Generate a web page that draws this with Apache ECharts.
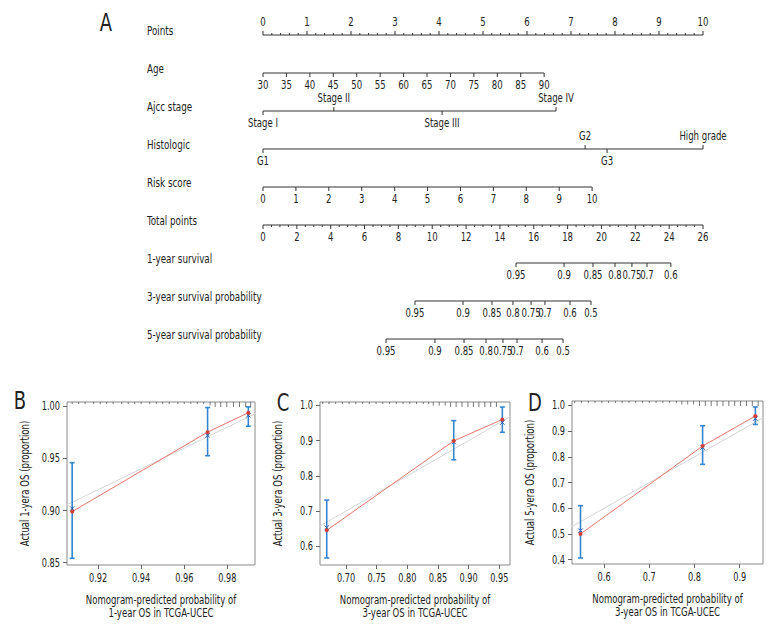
<!DOCTYPE html>
<html>
<head>
<meta charset="utf-8">
<script src="https://cdn.jsdelivr.net/npm/echarts@6/dist/echarts.min.js"></script>
<style>html,body{margin:0;padding:0;background:#fff}#main{width:780px;height:636px}</style>
</head>
<body>
<div id="main"></div>
<script>
// ================= Panel A : nomogram =================
const rowNames = ['Points','Age','Ajcc stage','Histologic','Risk score','Total points',
  '1-year survival','3-year survival probability','5-year survival probability'];
const pointsLabels = [0,1,2,3,4,5,6,7,8,9,10];
const ageValues = [30,35,40,45,50,55,60,65,70,75,80,85,90];
const ageMaxPoints = 6.39;          // points for age 90 (age 30 -> 0)
const stageLabels = ['Stage I','Stage II','Stage III','Stage IV'];
const stagePoints = [0,1.61,4.07,6.66];
const stageSide = ['below','above','below','above'];
const histLabels = ['G1','G2','G3','High grade'];
const histPoints = [0,7.32,7.82,10];
const histSide = ['below','above','below','above'];
const riskValues = [0,1,2,3,4,5,6,7,8,9,10];
const riskMaxPoints = 7.48;         // points for risk score 10
const totalLabels = [0,2,4,6,8,10,12,14,16,18,20,22,24,26];
const surv1Labels = ['0.95','0.9','0.85','0.8','0.75','0.7','0.6'];
const surv1Total  = [14.95,17.79,19.50,20.80,21.80,22.69,24.10];
const surv3Labels = ['0.95','0.9','0.85','0.8','0.75','0.7','0.6','0.5'];
const surv3Total  = [8.98,11.82,13.53,14.77,15.84,16.66,18.14,19.38];
const surv5Labels = ['0.95','0.9','0.85','0.8','0.75','0.7','0.6','0.5'];
const surv5Total  = [7.27,10.16,11.88,13.18,14.18,15.01,16.49,17.73];

// ================= Panels B-D : calibration =================
const calB_pred = [0.908, 0.9708, 0.9897];
const calB_obs  = [0.899, 0.9752, 0.9938];
const calB_corr = [0.902, 0.9722, 0.9914];
const calB_lo   = [0.8542, 0.9526, 0.9809];
const calB_hi   = [0.9459, 0.9988, 0.9994];
const calB_xTicks = [0.92,0.94,0.96,0.98];
const calB_yTicks = [0.85,0.90,0.95,1.00];
const calB_rug  = [0.908,0.911,0.914,0.918,0.921,0.924,0.927,0.931,0.934,0.937,0.940,0.944,0.947,0.950,0.953,0.957,0.960,0.963,0.966,0.969,0.972,
                   0.9743,0.9769,0.9797,0.9828,0.9856,0.9885,0.9908];
const calB_rugN = [1,1,1,1,1,1,1,1,1,1,1,1,1,1,1,1,1,1,1,1,2, 3,3,3,3,3,3,3];

const calC_pred = [0.6685, 0.8757, 0.955];
const calC_obs  = [0.6455, 0.899, 0.9596];
const calC_corr = [0.653, 0.8955, 0.951];
const calC_lo   = [0.567, 0.8455, 0.9234];
const calC_hi   = [0.731, 0.9565, 0.995];
const calC_xTicks = [0.70,0.75,0.80,0.85,0.90,0.95];
const calC_yTicks = [0.6,0.7,0.8,0.9,1.0];
const calC_rug  = [0.662,0.672,0.683,0.694,0.705,0.716,0.727,0.738,0.749,0.760,0.771,0.782,0.793,0.804,0.815,0.826,0.835,
                   0.8423,0.852,0.8618,0.8706,0.8796,0.8892,0.8989,0.9077,0.9167,0.9264,0.936,0.9453];
const calC_rugN = [1,1,1,1,1,1,1,1,1,1,1,1,1,1,1,1,1, 2,2,2,3,3,3,3,3,3,3,3,3];

const calD_pred = [0.5478, 0.818, 0.9347];
const calD_obs  = [0.50, 0.8415, 0.9585];
const calD_corr = [0.513, 0.8365, 0.9485];
const calD_lo   = [0.4066, 0.7705, 0.9255];
const calD_hi   = [0.61, 0.9205, 0.9935];
const calD_xTicks = [0.6,0.7,0.8,0.9];
const calD_yTicks = [0.4,0.5,0.6,0.7,0.8,0.9,1.0];
const calD_rug  = [0.535,0.550,0.565,0.580,0.595,0.610,0.625,0.640,0.655,0.670,0.685,0.700,0.715,0.730,0.745,0.760,
                   0.772,0.785,0.798,0.811,0.824,0.837,0.850,0.863,0.876,0.889,0.902,0.915,0.928,0.941];
const calD_rugN = [1,1,1,1,1,1,1,1,1,1,1,1,1,1,1,1, 2,2,2,3,3,3,3,3,3,3,3,3,3,3];

const FONT = "'DejaVu Sans Condensed','DejaVu Sans',sans-serif";
const INK = '#222';
const LINE = '#333';

// text element with horizontal condensing (reference uses a condensed face)
function T(x, y, text, o){
  o = o || {};
  const al = o.align || 'center', va = o.va || 'middle';
  return {type:'text', x, y, scaleX:o.sx || 0.76, rotation:o.rot || 0,
    style:{x:0, y:0, text, fontSize:o.fs || 12, fontFamily:FONT, fill:INK,
      textAlign:al, align:al, textVerticalAlign:va, verticalAlign:va}};
}

// ---------- build nomogram elements ----------
const ptsLines = [], ptsTicks = [], totLines = [], totTicks = [];
function tick(arr, x, row, label, side, minor){ arr.push({x, row, label, side, minor}); }

ptsLines.push([0, 10, 0]);
pointsLabels.forEach(v => tick(ptsTicks, v, 0, String(v), 'above', false));
for (let k = 0; k < 50; k++) { if (k % 5) tick(ptsTicks, k / 5, 0, null, 'above', true); }
ptsLines.push([0, ageMaxPoints, 1]);
ageValues.forEach(a => tick(ptsTicks, (a - ageValues[0]) / (ageValues[ageValues.length-1] - ageValues[0]) * ageMaxPoints, 1, String(a), 'below', false));
ptsLines.push([0, Math.max(...stagePoints), 2]);
stageLabels.forEach((s, i) => tick(ptsTicks, stagePoints[i], 2, s, stageSide[i], false));
ptsLines.push([0, Math.max(...histPoints), 3]);
histLabels.forEach((s, i) => tick(ptsTicks, histPoints[i], 3, s, histSide[i], false));
ptsLines.push([0, riskMaxPoints, 4]);
riskValues.forEach(r => tick(ptsTicks, r / riskValues[riskValues.length-1] * riskMaxPoints, 4, String(r), 'below', false));
totLines.push([0, 26, 5]);
totalLabels.forEach(v => tick(totTicks, v, 5, String(v), 'below', false));
for (let k = 0; k < 52; k++) { if (k % 4) tick(totTicks, k / 2, 5, null, 'below', true); }
[[surv1Labels, surv1Total, 6], [surv3Labels, surv3Total, 7], [surv5Labels, surv5Total, 8]].forEach(([labs, tot, row]) => {
  totLines.push([Math.min(...tot), Math.max(...tot), row]);
  labs.forEach((l, i) => tick(totTicks, tot[i], row, l, 'below', false));
});

function lineRender(params, api){
  const a = api.coord([api.value(0), api.value(2)]);
  const b = api.coord([api.value(1), api.value(2)]);
  return {type:'line', shape:{x1:a[0], y1:a[1], x2:b[0], y2:b[1]}, style:{stroke:LINE, lineWidth:1}};
}
function tickRenderFor(items){
  return function(params, api){
    const t = items[params.dataIndex];
    const p = api.coord([api.value(0), api.value(1)]);
    const dir = t.side === 'above' ? -1 : 1;
    const len = t.minor ? 2 : 4;
    const children = [{type:'line', shape:{x1:p[0], y1:p[1], x2:p[0], y2:p[1] + dir*len}, style:{stroke:LINE, lineWidth:1}}];
    if (t.label != null) children.push(T(p[0], p[1] + dir*(t.side === 'above' ? 13 : 12), t.label, {fs:12.5, sx:0.76}));
    return {type:'group', children};
  };
}
function rowNameRender(params, api){
  const p = api.coord([api.value(0), api.value(1)]);
  return T(p[0] - 116, p[1] - 4, rowNames[params.dataIndex], {fs:12.5, sx:0.78, align:'left'});
}

// ---------- calibration helpers ----------
function calX(g, min, max, ticks){
  return {gridIndex:g, type:'value', min, max, axisLine:{show:false},
    axisTick:{show:true, length:4, customValues:ticks, lineStyle:{color:'#666'}},
    axisLabel:{show:false}, splitLine:{show:false}};
}
function calY(g, min, max, ticks){
  return {gridIndex:g, type:'value', min, max, axisLine:{show:false},
    axisTick:{show:true, length:4, customValues:ticks, lineStyle:{color:'#666'}},
    axisLabel:{show:false}, splitLine:{show:false}};
}
function calSeries(ax, pred, obs, corr, lo, hi, rug, rugN, idealRange, xTicks, yTicks, dec, xName1, xName2, yName){
  const s = [];
  s.push({type:'line', xAxisIndex:ax, yAxisIndex:ax-1, data:[[idealRange[0], idealRange[0]], [idealRange[1], idealRange[1]]],
    symbol:'none', silent:true, clip:true, lineStyle:{color:'#d6d6d6', width:1}, z:1});
  s.push({type:'custom', xAxisIndex:ax, yAxisIndex:ax-1,
    data: pred.map((x, i) => [x, lo[i], hi[i], corr[i]]),
    encode:{x:0, y:[1,2,3]},
    renderItem:(params, api) => {
      const x = api.value(0);
      const a = api.coord([x, api.value(1)]), b = api.coord([x, api.value(2)]), c = api.coord([x, api.value(3)]);
      const col = '#3585d0', w = 2.5, m = 2.2;
      return {type:'group', children:[
        {type:'line', shape:{x1:a[0], y1:a[1], x2:b[0], y2:b[1]}, style:{stroke:col, lineWidth:1.6}},
        {type:'line', shape:{x1:a[0]-w, y1:a[1], x2:a[0]+w, y2:a[1]}, style:{stroke:col, lineWidth:1.6}},
        {type:'line', shape:{x1:b[0]-w, y1:b[1], x2:b[0]+w, y2:b[1]}, style:{stroke:col, lineWidth:1.6}},
        {type:'line', shape:{x1:c[0]-m, y1:c[1]-m, x2:c[0]+m, y2:c[1]+m}, style:{stroke:'#2a5aa8', lineWidth:1}},
        {type:'line', shape:{x1:c[0]-m, y1:c[1]+m, x2:c[0]+m, y2:c[1]-m}, style:{stroke:'#2a5aa8', lineWidth:1}}
      ]};
    }, z:2});
  s.push({type:'line', xAxisIndex:ax, yAxisIndex:ax-1, data: pred.map((x, i) => [x, obs[i]]),
    symbol:'circle', symbolSize:4, itemStyle:{color:'#cf3f3a'}, lineStyle:{color:'#e5776c', width:1}, z:3});
  s.push({type:'custom', xAxisIndex:ax, yAxisIndex:ax-1, data: rug.map((x, i) => [x, rugN[i]]),
    encode:{x:0},
    renderItem:(params, api) => {
      const cs = params.coordSys;
      const p = api.coord([api.value(0), 0]);
      const h = api.value(1) >= 3 ? 5 : (api.value(1) >= 2 ? 3.5 : 2);
      return {type:'line', shape:{x1:p[0], y1:cs.y, x2:p[0], y2:cs.y + h}, style:{stroke:'#555', lineWidth:0.8}};
    }, z:4});
  // x tick labels + x axis title
  s.push({type:'custom', xAxisIndex:ax, yAxisIndex:ax-1, data: xTicks.map(v => [v]), encode:{x:0}, silent:true,
    renderItem:(params, api) => {
      const cs = params.coordSys;
      const p = api.coord([api.value(0), 0]);
      const ch = [T(p[0], cs.y + cs.height + 13, api.value(0).toFixed(dec), {fs:13, sx:0.7})];
      if (params.dataIndex === 0) {
        ch.push(T(cs.x + cs.width/2, cs.y + cs.height + 35, xName1, {fs:12.5, sx:0.76}));
        ch.push(T(cs.x + cs.width/2, cs.y + cs.height + 48, xName2, {fs:12.5, sx:0.76}));
      }
      return {type:'group', children:ch};
    }});
  // y tick labels + y axis title
  s.push({type:'custom', xAxisIndex:ax, yAxisIndex:ax-1, data: yTicks.map(v => [0, v]), encode:{y:1}, silent:true,
    renderItem:(params, api) => {
      const cs = params.coordSys;
      const p = api.coord([0, api.value(1)]);
      const ch = [T(cs.x - 7, p[1], api.value(1).toFixed(ax === 2 ? 2 : 1), {fs:13, sx:0.7, align:'right'})];
      if (params.dataIndex === 0) {
        ch.push(T(cs.x - 42, cs.y + cs.height/2, yName, {fs:12.5, sx:0.76, rot:Math.PI/2}));
      }
      return {type:'group', children:ch};
    }});
  return s;
}

function letter(ch, x, y){
  return {type:'text', x, y, scaleX:0.8,
    style:{text:ch, fontSize:25, fontFamily:FONT, fill:INK, textAlign:'center', align:'center', textVerticalAlign:'middle', verticalAlign:'middle'}};
}

const chart = echarts.init(document.getElementById('main'), null, {renderer:'svg'});
const option = {
  animation:false,
  backgroundColor:'#fff',
  textStyle:{fontFamily:FONT},
  graphic:[letter('A', 106, 22), letter('B', 20, 400), letter('C', 283, 402), letter('D', 535, 402)],
  grid:[
    {left:263, right:77, top:35, bottom:297},
    {left:67, right:525, top:402, bottom:71, show:true, borderColor:'#8a8a8a', borderWidth:1},
    {left:320, right:270, top:402, bottom:71, show:true, borderColor:'#8a8a8a', borderWidth:1},
    {left:572, right:17, top:401, bottom:72, show:true, borderColor:'#8a8a8a', borderWidth:1}
  ],
  xAxis:[
    {gridIndex:0, type:'value', min:0, max:10, show:false},
    {gridIndex:0, type:'value', min:0, max:26, show:false},
    calX(1, 0.9056, 0.9928, calB_xTicks),
    calX(2, 0.6575, 0.9675, calC_xTicks),
    calX(3, 0.529, 0.9516, calD_xTicks)
  ],
  yAxis:[
    {gridIndex:0, type:'value', min:0, max:8, interval:1, inverse:true, show:false},
    calY(1, 0.8478, 1.0041, calB_yTicks),
    calY(2, 0.547, 1.0093, calC_yTicks),
    calY(3, 0.3833, 1.0167, calD_yTicks)
  ],
  series:[
    {type:'custom', xAxisIndex:0, yAxisIndex:0, data:rowNames.map((n, i) => [0, i]), encode:{x:0, y:1}, renderItem:rowNameRender, silent:true},
    {type:'custom', xAxisIndex:0, yAxisIndex:0, data:ptsLines, encode:{x:[0,1], y:2}, renderItem:lineRender, silent:true},
    {type:'custom', xAxisIndex:0, yAxisIndex:0, data:ptsTicks.map(t => [t.x, t.row]), encode:{x:0, y:1}, renderItem:tickRenderFor(ptsTicks), silent:true},
    {type:'custom', xAxisIndex:1, yAxisIndex:0, data:totLines, encode:{x:[0,1], y:2}, renderItem:lineRender, silent:true},
    {type:'custom', xAxisIndex:1, yAxisIndex:0, data:totTicks.map(t => [t.x, t.row]), encode:{x:0, y:1}, renderItem:tickRenderFor(totTicks), silent:true},
    ...calSeries(2, calB_pred, calB_obs, calB_corr, calB_lo, calB_hi, calB_rug, calB_rugN, [0.85, 1.0], calB_xTicks, calB_yTicks, 2,
      'Nomogram-predicted probability of', '1-year OS in TCGA-UCEC', 'Actual 1-yera OS (proportion)'),
    ...calSeries(3, calC_pred, calC_obs, calC_corr, calC_lo, calC_hi, calC_rug, calC_rugN, [0.5, 1.0], calC_xTicks, calC_yTicks, 2,
      'Nomogram-predicted probability of', '3-year OS in TCGA-UCEC', 'Actual 3-yera OS (proportion)'),
    ...calSeries(4, calD_pred, calD_obs, calD_corr, calD_lo, calD_hi, calD_rug, calD_rugN, [0.3, 1.0], calD_xTicks, calD_yTicks, 1,
      'Nomogram-predicted probability of', '3-year OS in TCGA-UCEC', 'Actual 5-yera OS (proportion)')
  ]
};
chart.setOption(option);
</script>
</body>
</html>
